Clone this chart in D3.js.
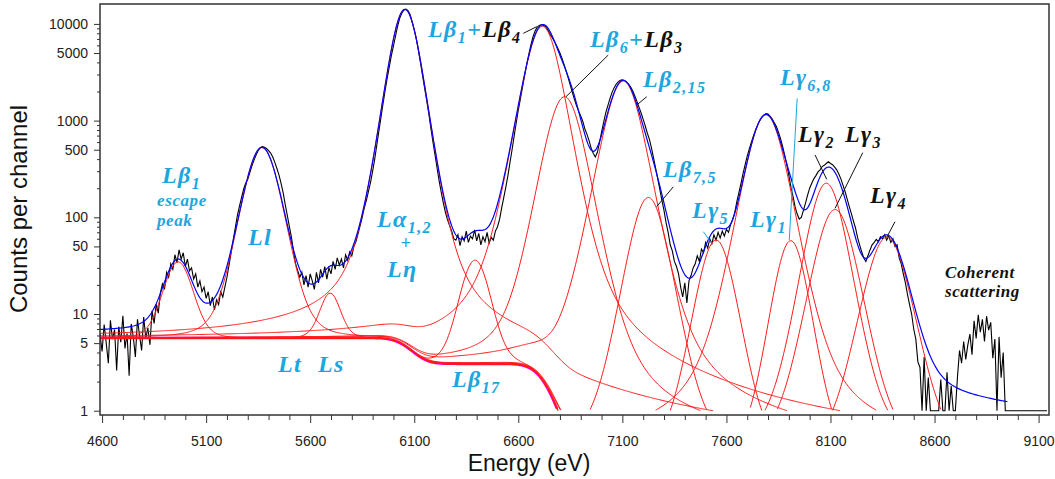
<!DOCTYPE html>
<html>
<head>
<meta charset="utf-8">
<script src="https://cdn.jsdelivr.net/npm/d3@7"></script>
<style>
  body { margin: 0; background: #fff; }
</style>
</head>
<body>
<div class="canvas"></div>
<script>
// measured spectrum: counts per 10 eV channel, first channel at 4590 eV
const energyStart = 4590;
const energyStep = 10;
const counts = [
  6.2, 4.1, 7.8, 5.0, 3.1, 8.6, 5.5, 6.9, 2.6, 7.4,
  5.1, 9.6, 4.4, 6.3, 2.3, 7.9, 5.8, 3.6, 8.8, 6.0,
  4.2, 9.3, 5.6, 7.2, 4.8, 10.8, 8.0, 12.6, 10.2, 16.5,
  20.5, 18, 27, 24, 33, 29, 41, 34, 46, 37,
  43, 31, 37, 28, 30, 23, 26, 19, 22, 17,
  19, 14.5, 17, 12.2, 15, 11, 14, 12.5, 17, 15,
  19, 24, 32, 43, 58, 78, 104, 130, 160, 195,
  225, 248, 290, 340, 390, 440, 490, 525, 540, 530,
  515, 490, 462, 420, 370, 320, 275, 225, 180, 135,
  105, 80, 62, 44, 33, 28, 24, 27, 20, 25,
  19, 26, 22, 18, 27, 21, 29, 24, 31, 23,
  30, 26, 35, 29, 38, 32, 37, 30, 41, 36,
  44, 40, 50, 56, 68, 82, 100, 125, 150, 185,
  230, 300, 400, 560, 780, 1080, 1500, 2050, 2750, 3600,
  4700, 5900, 7500, 9500, 11400, 12900, 13900, 14200, 13700, 12500,
  10500, 8700, 7000, 5300, 3950, 2900, 2150, 1600, 1170, 830,
  600, 440, 320, 235, 180, 140, 112, 94, 82, 72,
  60, 58, 66, 51, 63, 57, 72, 55, 64, 60,
  74, 57, 68, 52, 63, 56, 70, 54, 62, 58,
  72, 80, 95, 125, 160, 205, 270, 370, 500, 690,
  950, 1280, 1680, 2200, 2900, 3800, 4800, 6000, 7300, 8400,
  9200, 9650, 9800, 9700, 9400, 8800, 8000, 7400, 6800, 6200,
  5600, 5000, 4400, 3800, 3250, 2750, 2320, 1950, 1650, 1420,
  1250, 1120, 980, 820, 720, 620, 520, 460, 420, 470,
  590, 760, 960, 1200, 1420, 1680, 1950, 2180, 2380, 2520,
  2610, 2640, 2600, 2500, 2380, 2230, 2020, 1800, 1580, 1380,
  1200, 1030, 880, 740, 640, 520, 410, 320, 250, 195,
  150, 118, 88, 70, 52, 45, 35, 31, 26, 19,
  15, 21, 13, 22, 25, 30, 33, 40, 35, 47,
  43, 55, 48, 60, 53, 66, 58, 70, 61, 72,
  64, 75, 70, 84, 95, 112, 145, 180, 225, 285,
  350, 430, 510, 600, 700, 800, 900, 1000, 1080, 1140,
  1180, 1170, 1110, 1040, 950, 870, 760, 650, 540, 440,
  350, 270, 205, 165, 128, 108, 96, 100, 118, 140,
  170, 200, 225, 250, 270, 295, 310, 335, 345, 360,
  375, 360, 350, 330, 310, 280, 250, 215, 185, 155,
  130, 110, 92, 78, 62, 52, 44, 38, 35, 40,
  46, 52, 55, 59, 56, 63, 60, 66, 58, 64,
  55, 60, 50, 52, 38, 33, 26, 21, 16, 12.5,
  10, 7, 5.5, 3.2, 2.8, 1, 3.6, 1, 2.2, 1,
  1, 1, 1, 1, 2.1, 1, 1, 2.5, 1, 1.8,
  1, 1, 2.2, 4.2, 3.1, 5.2, 3.4, 4.8, 6.2, 3.8,
  8.5, 5.6, 9.8, 6.5, 8.8, 5.2, 9.5, 6.8, 8.2, 3.5,
  5.5, 1, 5.8, 2.2, 4.0, 1, 1, 1, 1, 1,
  1, 1, 1, 1, 1, 1, 1, 1, 1, 1,
  1, 1, 1, 1, 1, 1
];

// fitted lines (centre eV, height counts, half width eV)
const peakNames = ["Lb1 esc", "Ll", "Ls", "La1,2", "Leta", "Lb1+Lb4", "Lb6+Lb3", "Lb2,15",
  "Lb7,5", "Lg5", "Lg1", "Lg6,8", "Lg2", "Lg3", "Lg4"];
const peakCenters = [4965, 5368, 5696, 6055, 6392, 6716, 6822, 7104, 7225, 7550, 7790, 7909, 8080, 8122, 8371];
const peakHeights = [29, 520, 10.8, 14150, 33, 9450, 1765, 2570, 160, 58, 1150, 57, 225, 120, 62];
const peakWidths = [62, 66, 48, 54, 60, 64, 68, 68, 66, 64, 68, 58, 64, 70, 75];
const wingFactor = 0.035;

// stepped background
const bgLevels = [5.65, 3.05, 0.35];
const bgSteps = [6075, 6740];
const bgStepWidths = [65, 70];

const fitEnd = 8950;

// axes
const xTickLabels = [4600, 5100, 5600, 6100, 6600, 7100, 7600, 8100, 8600, 9100];
const yTickLabels = [1, 5, 10, 50, 100, 500, 1000, 5000, 10000];

const cyan = "#1ea5e0";
const dark = "#111";

// annotations [text parts], energy, counts
const labels = [
  { parts: [["Lβ", cyan], ["1", cyan, 1]], e: 4888, c: 226, size: 24 },
  { parts: [["escape", cyan]], e: 4864, c: 131, size: 17 },
  { parts: [["peak", cyan]], e: 4864, c: 81, size: 17 },
  { parts: [["Ll", cyan]], e: 5301, c: 51.8, size: 24 },
  { parts: [["Lt", cyan]], e: 5445, c: 2.53, size: 24 },
  { parts: [["Ls", cyan]], e: 5637, c: 2.53, size: 24 },
  { parts: [["Lα", cyan], ["1,2", cyan, 1]], e: 5921, c: 79.5, size: 24 },
  { parts: [["+", cyan]], e: 6034, c: 47.5, size: 18 },
  { parts: [["Lη", cyan]], e: 5969, c: 24.2, size: 24 },
  { parts: [["Lβ", cyan], ["1", cyan, 1], ["+", cyan], ["Lβ", dark], ["4", dark, 1]], e: 6166, c: 7320, size: 24 },
  { parts: [["Lβ", cyan], ["6", cyan, 1], ["+", cyan], ["Lβ", dark], ["3", dark, 1]], e: 6944, c: 5770, size: 24 },
  { parts: [["Lβ", cyan], ["2,15", cyan, 1]], e: 7199, c: 2226, size: 24 },
  { parts: [["Lβ", cyan], ["7,5", cyan, 1]], e: 7295, c: 261, size: 24 },
  { parts: [["Lγ", cyan], ["5", cyan, 1]], e: 7435, c: 98.4, size: 24 },
  { parts: [["Lγ", cyan], ["1", cyan, 1]], e: 7713, c: 79.4, size: 24 },
  { parts: [["Lγ", cyan], ["6,8", cyan, 1]], e: 7857, c: 2334, size: 24 },
  { parts: [["Lγ", dark], ["2", dark, 1]], e: 7944, c: 601, size: 24 },
  { parts: [["Lγ", dark], ["3", dark, 1]], e: 8170, c: 601, size: 24 },
  { parts: [["Lγ", dark], ["4", dark, 1]], e: 8290, c: 140.6, size: 24 },
  { parts: [["Coherent", dark]], e: 8650, c: 23.6, size: 17 },
  { parts: [["scattering", dark]], e: 8650, c: 15, size: 17 },
  { parts: [["Lβ", cyan], ["17", cyan, 1]], e: 6281, c: 1.76, size: 24 }
];

// leader lines: e1, c1, e2, c2, colour
const leaders = [
  [6624, 7990, 6688, 9360, dark],
  [7032, 4760, 6829, 1766, dark],
  [7217, 1766, 7169, 1450, dark],
  [7345, 207, 7265, 129, dark],
  [7489, 71, 7529, 53.9, cyan],
  [7940, 1697, 7902, 58.3, cyan],
  [8026, 441, 8082, 247, dark],
  [8255, 466, 8122, 124, dark],
  [8410, 90, 8370, 62, dark]
];

const width = 1055;
const height = 479;
const plot = { left: 100, right: 1049, top: 4, bottom: 415 };

const svg = d3
  .select(".canvas")
  .append("svg")
  .attr("width", width)
  .attr("height", height)
  .style("font-family", "'Liberation Sans', Arial, sans-serif");

// scales
const x = d3.scaleLinear().domain([4590, 9150]).range([plot.left, plot.right]);
const y = d3.scaleLog().domain([0.903, 16070]).range([plot.bottom, plot.top]);

// fit model
const erfc = (z) => {
  const t = 1 / (1 + 0.5 * Math.abs(z));
  const r = t * Math.exp(-z * z - 1.26551223 + t * (1.00002368 + t * (0.37409196 + t * (0.09678418 +
    t * (-0.18628806 + t * (0.27886807 + t * (-1.13520398 + t * (1.48851587 +
    t * (-0.82215223 + t * 0.17087277)))))))));
  return z >= 0 ? r : 2 - r;
};

const background = (e) =>
  bgLevels[2] +
  (bgLevels[0] - bgLevels[1]) * 0.5 * erfc((e - bgSteps[0]) / (Math.SQRT2 * bgStepWidths[0])) +
  (bgLevels[1] - bgLevels[2]) * 0.5 * erfc((e - bgSteps[1]) / (Math.SQRT2 * bgStepWidths[1]));

const peak = (i, e) => {
  const d = e - peakCenters[i];
  const w = peakWidths[i];
  const core = Math.pow(1 + 0.189 * (d / w) * (d / w), -4);
  const wing = (wingFactor * w * w) / (d * d + 4 * w * w);
  return (peakHeights[i] * (core + wing)) / (1 + wingFactor / 4);
};

const grid = d3.range(energyStart, 9151, 5);

const spectrum = counts.map((c, i) => ({ e: energyStart + i * energyStep, v: c }));
const bgCurve = grid.map((e) => ({ e, v: background(e) }));
const components = peakNames.map((name, i) =>
  grid.map((e) => ({ e, v: peak(i, e) + background(e) }))
);
const fit = grid
  .filter((e) => e <= fitEnd)
  .map((e) => ({ e, v: background(e) + d3.sum(peakNames, (n, i) => peak(i, e)) }));

// clip to plot frame
svg
  .append("clipPath")
  .attr("id", "clip")
  .append("rect")
  .attr("x", plot.left)
  .attr("y", plot.top)
  .attr("width", plot.right - plot.left)
  .attr("height", plot.bottom - plot.top);

const graph = svg.append("g").attr("clip-path", "url(#clip)");

const line = d3
  .line()
  .x((d) => x(d.e))
  .y((d) => y(Math.max(d.v, 0.5)));

const cutLine = d3
  .line()
  .defined((d) => d.v >= 1)
  .x((d) => x(d.e))
  .y((d) => y(d.v));

// measured counts
graph
  .append("path")
  .datum(spectrum)
  .attr("fill", "none")
  .attr("stroke", "#000")
  .attr("stroke-width", 1.1)
  .attr("d", line);

// background
graph
  .append("path")
  .datum(bgCurve)
  .attr("fill", "none")
  .attr("stroke", "#ff00ff")
  .attr("stroke-width", 2.5)
  .attr("d", cutLine);

// fitted components
graph
  .selectAll(".comp")
  .data(components)
  .enter()
  .append("path")
  .attr("class", "comp")
  .attr("fill", "none")
  .attr("stroke", "#ff1a1a")
  .attr("stroke-width", 1)
  .attr("d", cutLine);

// total fit
graph
  .append("path")
  .datum(fit)
  .attr("fill", "none")
  .attr("stroke", "#0000ff")
  .attr("stroke-width", 1.2)
  .attr("d", line);

// leader lines
svg
  .selectAll(".leader")
  .data(leaders)
  .enter()
  .append("line")
  .attr("x1", (d) => x(d[0]))
  .attr("y1", (d) => y(d[1]))
  .attr("x2", (d) => x(d[2]))
  .attr("y2", (d) => y(d[3]))
  .attr("stroke", (d) => d[4])
  .attr("stroke-width", 1);

// line labels with subscripts
labels.forEach((lab) => {
  const t = svg
    .append("text")
    .attr("x", x(lab.e))
    .attr("y", y(lab.c))
    .style("font-family", "'Liberation Serif', 'Times New Roman', serif")
    .style("font-style", "italic")
    .style("font-weight", "bold")
    .style("letter-spacing", lab.size > 20 ? "1.4px" : "0.6px")
    .attr("font-size", lab.size);
  let shift = 0;
  lab.parts.forEach(([str, col, sub]) => {
    const target = sub ? 6 : 0;
    t.append("tspan")
      .attr("dy", target - shift)
      .attr("fill", col)
      .attr("font-size", sub ? 16 : lab.size)
      .text(str);
    shift = target;
  });
});

// axes
const xMinor = d3.range(4600, 9150, 100).filter((v) => !xTickLabels.includes(v));
const yMinor = [];
[1, 10, 100, 1000, 10000].forEach((p) => {
  [2, 3, 4, 6, 7, 8, 9].forEach((m) => {
    if (m * p < 16070) yMinor.push(m * p);
  });
});

const xAxisGroup = svg.append("g").attr("transform", `translate(0,${plot.bottom})`);
xAxisGroup.call(d3.axisBottom(x).tickValues(xTickLabels).tickSize(8).tickFormat((d) => d));
xAxisGroup.append("g").call(d3.axisBottom(x).tickValues(xMinor).tickSize(5).tickFormat(""));
xAxisGroup.selectAll("text").attr("y", 21).attr("dy", "0.71em");

const yAxisGroup = svg.append("g").attr("transform", `translate(${plot.left},0)`);
yAxisGroup.call(d3.axisLeft(y).tickValues(yTickLabels).tickSize(6).tickPadding(6).tickFormat((d) => d));
yAxisGroup.append("g").call(d3.axisLeft(y).tickValues(yMinor).tickSize(3).tickFormat(""));

svg.selectAll(".domain").remove();
svg.selectAll(".tick line").attr("stroke", "#333");
svg
  .selectAll(".tick text")
  .attr("fill", "#222")
  .attr("font-size", 14)
  .style("font-family", "'Liberation Sans', Arial, sans-serif");

// frame
svg
  .append("rect")
  .attr("x", plot.left)
  .attr("y", plot.top)
  .attr("width", plot.right - plot.left)
  .attr("height", plot.bottom - plot.top)
  .attr("fill", "none")
  .attr("stroke", "#333")
  .attr("stroke-width", 1.5);

// axis titles
svg
  .append("text")
  .attr("transform", "translate(27,209) rotate(-90)")
  .attr("text-anchor", "middle")
  .attr("font-size", 24)
  .attr("fill", "#111")
  .text("Counts per channel");

svg
  .append("text")
  .attr("x", 529)
  .attr("y", 471)
  .attr("text-anchor", "middle")
  .attr("font-size", 23)
  .attr("fill", "#111")
  .text("Energy (eV)");
</script>
</body>
</html>
